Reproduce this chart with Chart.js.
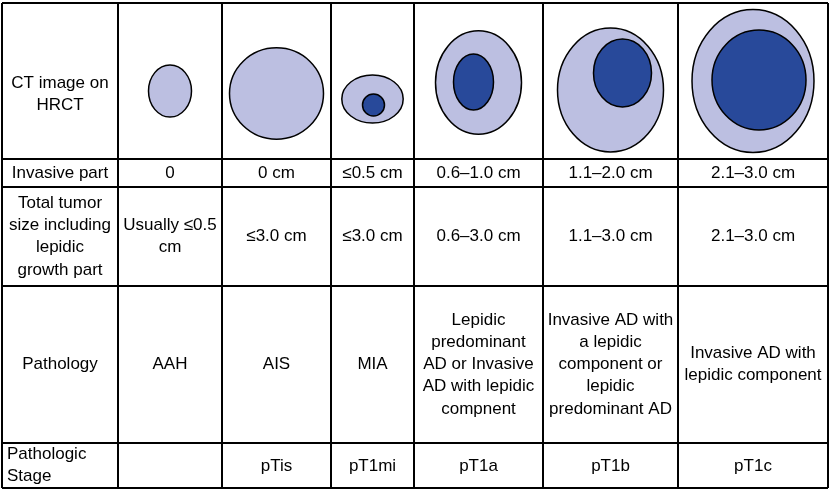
<!DOCTYPE html>
<html>
<head>
<meta charset="utf-8">
<script src="https://cdn.jsdelivr.net/npm/chart.js@4"></script>
<style>
  body { margin: 0; background: #fff; }
</style>
</head>
<body>
<canvas id="tableChart" width="832" height="490"></canvas>
<script>
// Table edges (in table units)
const colEdges = [2, 118, 222, 331, 414, 543, 678, 828];
const rowEdges = [3, 159, 187, 286, 443, 488];

// Row headers
const rowLabels = [
    ['CT image on', 'HRCT'],
    ['Invasive part'],
    ['Total tumor', 'size including', 'lepidic', 'growth part'],
    ['Pathology'],
    ['Pathologic', 'Stage']
];

// Categories
const invasivePart = ['0', '0 cm', '≤0.5 cm', '0.6–1.0 cm', '1.1–2.0 cm', '2.1–3.0 cm'];
const totalSize = [['Usually ≤0.5', 'cm'], ['≤3.0 cm'], ['≤3.0 cm'], ['0.6–3.0 cm'], ['1.1–3.0 cm'], ['2.1–3.0 cm']];
const pathology = [
    ['AAH'], ['AIS'], ['MIA'],
    ['Lepidic', 'predominant', 'AD or Invasive', 'AD with lepidic', 'compnent'],
    ['Invasive AD with', 'a lepidic', 'component or', 'lepidic', 'predominant AD'],
    ['Invasive AD with', 'lepidic component']
];
const stage = [[''], ['pTis'], ['pT1mi'], ['pT1a'], ['pT1b'], ['pT1c']];

// Nodule shapes on HRCT: whole lesion and solid (invasive) part
const outerCy = [91, 93.5, 99, 82.5, 90, 81];
const outerRx = [21.5, 47, 30.7, 43, 53, 61];
const outerRy = [26, 45.7, 24, 51.7, 62, 71.5];
const innerDx = [null, null, 1, -5, 12, 6];
const innerCy = [null, null, 105, 82, 73, 80];
const innerRx = [null, null, 11, 20, 29, 47];
const innerRy = [null, null, 11, 28, 34, 50];

const lightColor = '#bcbfe1';
const darkColor = '#28499a';

const tablePlugin = {
    id: 'tablePlugin',
    afterDatasetsDraw(chart) {
        const ctx = chart.ctx;
        const x = chart.scales.x;
        const y = chart.scales.y;

        // nodules
        ctx.save();
        ctx.lineWidth = 1.5;
        ctx.strokeStyle = '#000';
        for (let i = 0; i < outerRx.length; i++) {
            const cx = (colEdges[i + 1] + colEdges[i + 2]) / 2;
            const px = x.getPixelForValue(cx);
            const py = y.getPixelForValue(outerCy[i]);
            const rx = x.getPixelForValue(cx + outerRx[i]) - px;
            const ry = y.getPixelForValue(outerCy[i] + outerRy[i]) - py;
            ctx.beginPath();
            ctx.ellipse(px, py, Math.abs(rx), Math.abs(ry), 0, 0, Math.PI * 2);
            ctx.fillStyle = lightColor;
            ctx.fill();
            ctx.stroke();
            if (innerRx[i] !== null) {
                const ix = x.getPixelForValue(cx + innerDx[i]);
                const iy = y.getPixelForValue(innerCy[i]);
                const irx = x.getPixelForValue(cx + innerDx[i] + innerRx[i]) - ix;
                const iry = y.getPixelForValue(innerCy[i] + innerRy[i]) - iy;
                ctx.beginPath();
                ctx.ellipse(ix, iy, Math.abs(irx), Math.abs(iry), 0, 0, Math.PI * 2);
                ctx.fillStyle = darkColor;
                ctx.fill();
                ctx.stroke();
            }
        }
        ctx.restore();

        // texts
        ctx.save();
        ctx.fillStyle = '#000';
        ctx.font = '17px "Liberation Sans", Arial, sans-serif';
        ctx.textBaseline = 'middle';
        const lineH = 22.3;

        function cell(lines, c, r, align, dy) {
            const yc = (rowEdges[r] + rowEdges[r + 1]) / 2 + (dy || 0);
            let xc;
            if (align === 'left') {
                ctx.textAlign = 'left';
                xc = colEdges[c] + 5;
            } else {
                ctx.textAlign = 'center';
                xc = (colEdges[c] + colEdges[c + 1]) / 2;
            }
            const top = yc - (lines.length - 1) * lineH / 2;
            lines.forEach((t, k) => {
                ctx.fillText(t, x.getPixelForValue(xc), y.getPixelForValue(top + k * lineH));
            });
        }

        cell(rowLabels[0], 0, 0, 'center', 13);
        cell(rowLabels[1], 0, 1, 'center', 0);
        cell(rowLabels[2], 0, 2, 'center', 0);
        cell(rowLabels[3], 0, 3, 'center', 0);
        cell(rowLabels[4], 0, 4, 'left', 0);
        for (let i = 0; i < invasivePart.length; i++) {
            cell([invasivePart[i]], i + 1, 1, 'center', 0);
            cell(totalSize[i], i + 1, 2, 'center', 0);
            cell(pathology[i], i + 1, 3, 'center', 0);
            cell(stage[i], i + 1, 4, 'center', 1);
        }
        ctx.restore();
    }
};

new Chart(document.getElementById('tableChart').getContext('2d'), {
    type: 'scatter',
    data: { datasets: [{ data: [], pointRadius: 0 }] },
    options: {
        responsive: false,
        animation: false,
        layout: { padding: { left: 2, right: 4, top: 3, bottom: 2 } },
        plugins: { legend: { display: false }, tooltip: { enabled: false } },
        scales: {
            x: {
                type: 'linear', min: colEdges[0], max: colEdges[colEdges.length - 1],
                afterBuildTicks: (s) => { s.ticks = colEdges.map(v => ({ value: v })); },
                ticks: { display: false },
                grid: { color: '#000', lineWidth: 2, drawTicks: false },
                border: { display: false }
            },
            y: {
                type: 'linear', min: rowEdges[0], max: rowEdges[rowEdges.length - 1], reverse: true,
                afterBuildTicks: (s) => { s.ticks = rowEdges.map(v => ({ value: v })); },
                ticks: { display: false },
                grid: { color: '#000', lineWidth: 2, drawTicks: false },
                border: { display: false }
            }
        }
    },
    plugins: [tablePlugin]
});
</script>
</body>
</html>
